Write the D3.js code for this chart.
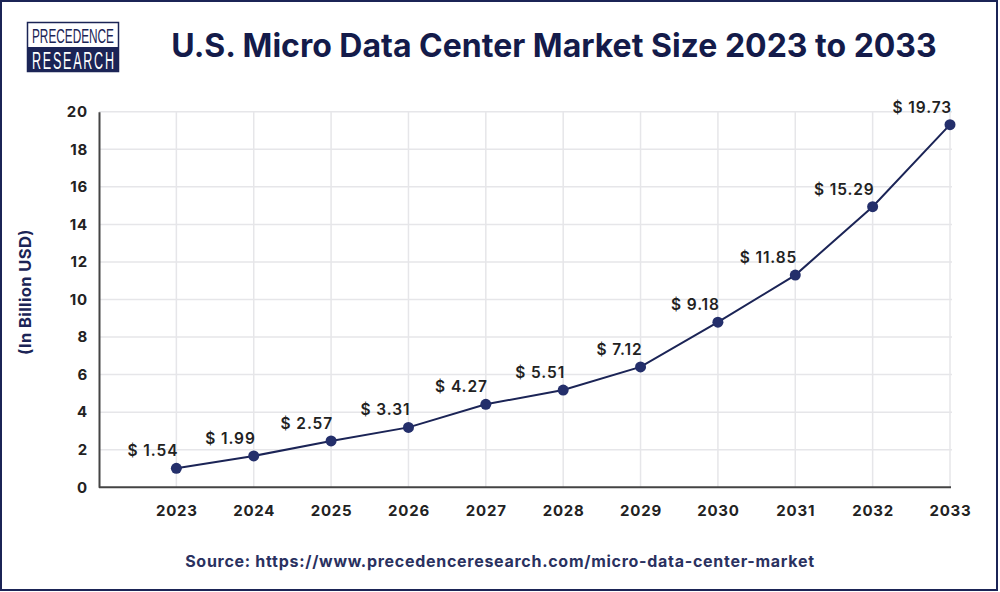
<!DOCTYPE html>
<html>
<head>
<meta charset="utf-8">
<script src="https://cdn.jsdelivr.net/npm/d3@7"></script>
<style>
  html, body { margin: 0; padding: 0; background: #fff; }
  svg { display: block; }
</style>
</head>
<body>
<svg id="chart" width="1000" height="592"></svg>
<script>

// years on the x axis
var years = [2023, 2024, 2025, 2026, 2027, 2028, 2029, 2030, 2031, 2032, 2033];

// value printed above each point
var labelValues = [1.54, 1.99, 2.57, 3.31, 4.27, 5.51, 7.12, 9.18, 11.85, 15.29, 19.73];

// where the points actually sit in the picture
var plotValues = [1.01, 1.67, 2.47, 3.19, 4.42, 5.18, 6.41, 8.79, 11.30, 14.94, 19.31];

var yTicks = [0, 2, 4, 6, 8, 10, 12, 14, 16, 18, 20];

var navy = "#1b2456",
    pointColor = "#242f6b",
    gridColor = "#e6e6e9",
    axisColor = "#444";

var margin = {top: 111.7, left: 99, right: 50, bottom: 104.7},
    width = 1000,
    height = 592;

var svg = d3.select("#chart");

// outer frame
svg.append("rect")
    .attr("x", 1)
    .attr("y", 1)
    .attr("width", width - 4)
    .attr("height", height - 3)
    .attr("fill", "#fff")
    .attr("stroke", navy)
    .attr("stroke-width", 2);

/** logo **/
var logo = svg.append("g");

logo.append("rect")
    .attr("x", 27.5)
    .attr("y", 22.5)
    .attr("width", 91)
    .attr("height", 49)
    .attr("fill", "#fff")
    .attr("stroke", navy)
    .attr("stroke-width", 1.5);

logo.append("rect")
    .attr("x", 27)
    .attr("y", 47)
    .attr("width", 92)
    .attr("height", 25)
    .attr("fill", navy);

// condensed look: squeeze the glyphs horizontally
logo.append("g")
    .attr("transform", "translate(32,42.5) scale(0.55,1)")
    .append("text")
    .attr("x", 0)
    .attr("y", 0)
    .attr("textLength", 82 / 0.55)
    .attr("lengthAdjust", "spacingAndGlyphs")
    .attr("font-family", "'Liberation Sans', Arial, sans-serif")
    .attr("font-size", 20.5)
    .attr("fill", navy)
    .text("PRECEDENCE");

logo.append("g")
    .attr("transform", "translate(32,68.5) scale(0.6,1.1)")
    .append("text")
    .attr("x", 0)
    .attr("y", 0)
    .attr("textLength", 82 / 0.6)
    .attr("lengthAdjust", "spacing")
    .attr("font-family", "'Liberation Sans', Arial, sans-serif")
    .attr("font-size", 21)
    .attr("fill", "#fff")
    .text("RESEARCH");

// title
svg.append("text")
    .attr("x", 554)
    .attr("y", 57)
    .attr("text-anchor", "middle")
    .attr("font-family", "Inter, 'Open Sans', sans-serif")
    .attr("font-weight", 700)
    .attr("font-size", 32)
    .attr("fill", "#141b4a")
    .text("U.S. Micro Data Center Market Size 2023 to 2033");

/** scales **/
var x = d3.scaleLinear()
    .domain([2022, 2033])
    .range([margin.left, width - margin.right]);

var y = d3.scaleLinear()
    .domain([0, 20])
    .range([height - margin.bottom, margin.top]);

var plot = svg.append("g");

// grid
plot.selectAll(".hgrid")
    .data(yTicks.slice(1))
    .enter().append("line")
    .attr("x1", margin.left)
    .attr("x2", x(2033) + 2)
    .attr("y1", function(d){ return y(d); })
    .attr("y2", function(d){ return y(d); })
    .attr("stroke", gridColor)
    .attr("stroke-width", 1.5);

plot.selectAll(".vgrid")
    .data(years)
    .enter().append("line")
    .attr("x1", function(d){ return x(d); })
    .attr("x2", function(d){ return x(d); })
    .attr("y1", y(20))
    .attr("y2", y(0))
    .attr("stroke", gridColor)
    .attr("stroke-width", 1.5);

// axes
var yAxis = d3.axisLeft(y)
    .tickValues(yTicks)
    .tickSize(0)
    .tickPadding(11);

var yG = plot.append("g")
    .attr("transform", "translate(" + margin.left + ",0)")
    .call(yAxis);

var xAxis = d3.axisBottom(x)
    .tickValues(years)
    .tickFormat(d3.format("d"))
    .tickSize(0)
    .tickPadding(18);

var xG = plot.append("g")
    .attr("transform", "translate(0," + y(0) + ")")
    .call(xAxis);

[yG, xG].forEach(function(g){
    g.select(".domain")
        .attr("stroke", axisColor)
        .attr("stroke-width", 2);
    g.selectAll("text")
        .attr("font-family", "Inter, 'Open Sans', sans-serif")
        .attr("font-weight", 700)
        .attr("font-size", 15)
        .attr("letter-spacing", 0.8)
        .attr("fill", "#222");
});

xG.select(".domain").attr("d", "M" + margin.left + ",0H" + (x(2033) + 1));

// y axis title
svg.append("text")
    .attr("transform", "translate(31,292) rotate(-90)")
    .attr("text-anchor", "middle")
    .attr("font-family", "Inter, 'Open Sans', sans-serif")
    .attr("font-weight", 700)
    .attr("font-size", 16.5)
    .attr("letter-spacing", 0.4)
    .attr("fill", navy)
    .text("(In Billion USD)");

/** line and points **/
var pts = years.map(function(yr, i){
    return {year: yr, v: plotValues[i], label: labelValues[i]};
});

var line = d3.line()
    .x(function(d){ return x(d.year); })
    .y(function(d){ return y(d.v); });

plot.append("path")
    .datum(pts)
    .attr("d", line)
    .attr("fill", "none")
    .attr("stroke", navy)
    .attr("stroke-width", 2);

plot.selectAll(".pt")
    .data(pts)
    .enter().append("circle")
    .attr("cx", function(d){ return x(d.year); })
    .attr("cy", function(d){ return y(d.v); })
    .attr("r", 5.5)
    .attr("fill", pointColor);

plot.selectAll(".lbl")
    .data(pts)
    .enter().append("text")
    .attr("x", function(d){ return x(d.year) + 2; })
    .attr("y", function(d){ return y(d.v) - 12; })
    .attr("text-anchor", "end")
    .attr("font-family", "Inter, 'Open Sans', sans-serif")
    .attr("font-weight", 600)
    .attr("font-size", 15.5)
    .attr("letter-spacing", 0.9)
    .attr("fill", "#222")
    .text(function(d){ return "$ " + d.label.toFixed(2); });

// source
svg.append("text")
    .attr("x", 500)
    .attr("y", 567)
    .attr("text-anchor", "middle")
    .attr("font-family", "Inter, 'Open Sans', sans-serif")
    .attr("font-weight", 700)
    .attr("font-size", 16)
    .attr("letter-spacing", 0.72)
    .attr("fill", "#2a3160")
    .text("Source: https://www.precedenceresearch.com/micro-data-center-market");

</script>
</body>
</html>
